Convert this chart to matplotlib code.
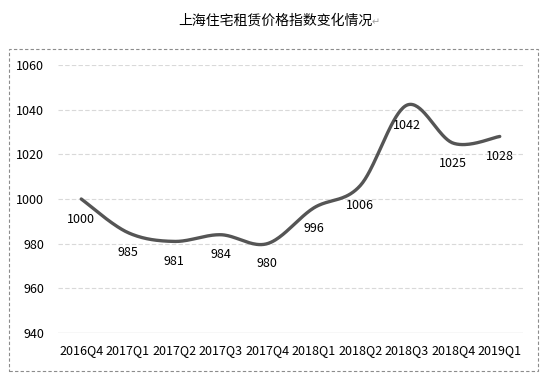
import numpy as np
import matplotlib
matplotlib.use('Agg')
import matplotlib.pyplot as plt
from matplotlib.patches import Rectangle

plt.rcParams['font.family'] = ['Noto Sans CJK SC', 'DejaVu Sans']

quarters = ['2016Q4', '2017Q1', '2017Q2', '2017Q3', '2017Q4',
            '2018Q1', '2018Q2', '2018Q3', '2018Q4', '2019Q1']
index_values = [1000, 985, 981, 984, 980, 996, 1006, 1042, 1025, 1028]
y_ticks = [940, 960, 980, 1000, 1020, 1040, 1060]

#*******************************************************************************

def smooth_curve(x, y, n=40):
	# Bezier smoothing similar to the office "smoothed line" option
	x = np.asarray(x, float)
	y = np.asarray(y, float)
	px = np.concatenate([[x[0]], x, [x[-1]]])
	py = np.concatenate([[y[0]], y, [y[-1]]])
	xs, ys = [], []
	t = np.linspace(0, 1, n)
	for i in range(len(x) - 1):
		p0 = np.array([px[i+1], py[i+1]])
		p3 = np.array([px[i+2], py[i+2]])
		p1 = p0 + (np.array([px[i+2], py[i+2]]) - np.array([px[i], py[i]])) / 6
		p2 = p3 - (np.array([px[i+3], py[i+3]]) - np.array([px[i+1], py[i+1]])) / 6
		b = ((1-t)**3)[:, None]*p0 + (3*(1-t)**2*t)[:, None]*p1 + (3*(1-t)*t**2)[:, None]*p2 + (t**3)[:, None]*p3
		xs.extend(b[:, 0])
		ys.extend(b[:, 1])
	return xs, ys

#*******************************************************************************

fig = plt.figure(figsize=(5.42, 3.81), dpi=100)
fig.patches.append(Rectangle((9/542, 1-371/381), 529/542, 322/381, transform=fig.transFigure,
	fill=False, edgecolor='#8c8c8c', linestyle=(0, (3, 2)), linewidth=0.8))

ax = fig.add_axes([58/542, 1-333/381, 465/542, 268/381])
x = np.arange(len(quarters))
sx, sy = smooth_curve(x, index_values)
ax.plot(sx, sy, color='#555555', linewidth=2.4, solid_capstyle='round', zorder=3)

for xi, v in zip(x, index_values):
	ax.annotate(str(v), (xi, v), xytext=(0, -14.5), textcoords='offset points',
		ha='center', va='center', fontsize=9, color='#000000')

ax.set_xlim(-0.5, len(quarters) - 0.5)
ax.set_ylim(940, 1060)
ax.set_yticks(y_ticks)
ax.set_xticks(x)
ax.set_xticklabels(quarters)
for s in ax.spines.values():
	s.set_visible(False)
ax.tick_params(axis='both', length=0, labelsize=9, colors='#000000')
ax.tick_params(axis='y', pad=10)
ax.tick_params(axis='x', pad=8)
for yt in y_ticks[1:]:
	ax.axhline(yt, color='#d9d9d9', linewidth=0.8, linestyle=(0, (4, 2)), zorder=1)
ax.axhline(940, color='#d9d9d9', linewidth=1.0, zorder=1)

fig.text(275/542, 1-21/381, '上海住宅租赁价格指数变化情况', ha='center', va='center', fontsize=10)
fig.text(372/542, 1-22/381, '↵', ha='left', va='center', fontsize=7, color='#a0a0a0')

plt.savefig('out.png', dpi=100)
plt.close()
